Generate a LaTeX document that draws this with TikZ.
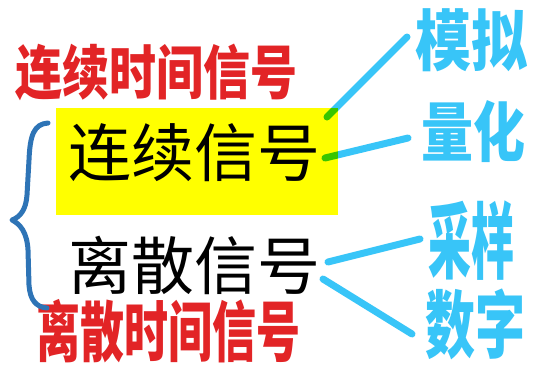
\documentclass[tikz,border=0pt]{standalone}
\usepackage{fontspec}
\newfontfamily\cjk{Noto Sans CJK SC}
\definecolor{hred}{RGB}{226,36,38}
\definecolor{lblue}{RGB}{56,197,248}
\definecolor{bblue}{RGB}{46,116,182}
\definecolor{ybox}{RGB}{255,255,0}
\begin{document}
\begin{tikzpicture}[x=1pt,y=-1pt,
  mainlbl/.style={font=\cjk\fontsize{63}{63}\selectfont, text=black, inner sep=0pt},
  redhand/.style={font=\cjk\bfseries\fontsize{47}{47}\selectfont, text=hred, inner sep=0pt, yscale=1.25},
  bluehand/.style={font=\cjk\bfseries\fontsize{52}{52}\selectfont, text=lblue, inner sep=0pt, yscale=1.25},
  link/.style={draw=lblue, line width=7pt, line cap=round, blend mode=multiply},
  bracestyle/.style={draw=bblue, line width=5pt, line cap=round, line join=round}]
\useasboundingbox (0,0) rectangle (538,365);
\fill[white] (0,0) rectangle (538,365);
% yellow box
\node[fill=ybox, minimum width=282pt, minimum height=107pt, inner sep=0pt] (ybox) at (197,161.5) {};
\node[mainlbl] (cont) at (194,153) {连续信号};
\node[mainlbl] (disc) at (194,265) {离散信号};
% red handwritten
\node[redhand] (ctime) at (157,72) {连续时间信号};
\node[redhand, font=\cjk\bfseries\fontsize{44}{44}\selectfont, yscale=1.2] (dtime) at (168,331) {离散时间信号};
% blue handwritten
\node[bluehand, font=\cjk\bfseries\fontsize{56}{56}\selectfont, yscale=0.95] (analog) at (471,40) {模拟};
\node[bluehand] (quant) at (473,132) {量化};
\node[bluehand, font=\cjk\bfseries\fontsize{43}{43}\selectfont, yscale=1.55] (sample) at (471,241) {采样};
\node[bluehand, font=\cjk\bfseries\fontsize{50}{50}\selectfont, yscale=1.18] (digital) at (475,324) {数字};
% connector ends
\coordinate (c1) at (327,117);
\coordinate (a1) at (407,37);
\coordinate (c2) at (325,158);
\coordinate (q1) at (408,138);
\coordinate (d1) at (328,262);
\coordinate (s1) at (420,239);
\coordinate (d2) at (323,279);
\coordinate (g1) at (412,334);
\draw[link] (c1) -- (a1);
\draw[link] (c2) -- (q1);
\draw[link] (d1) -- (s1);
\draw[link] (d2) -- (g1);
% brace
\coordinate (btop) at (48,123);
\coordinate (btip) at (12,220);
\coordinate (bbot) at (47,308);
\draw[bracestyle] (btop) .. controls (34,124) and (30,135) .. (29,160)
  -- (27,195) .. controls (26,210) and (20,217) .. (btip)
  .. controls (20,224) and (27,232) .. (28,250)
  -- (29,285) .. controls (30,300) and (36,307) .. (bbot);
\end{tikzpicture}
\end{document}
